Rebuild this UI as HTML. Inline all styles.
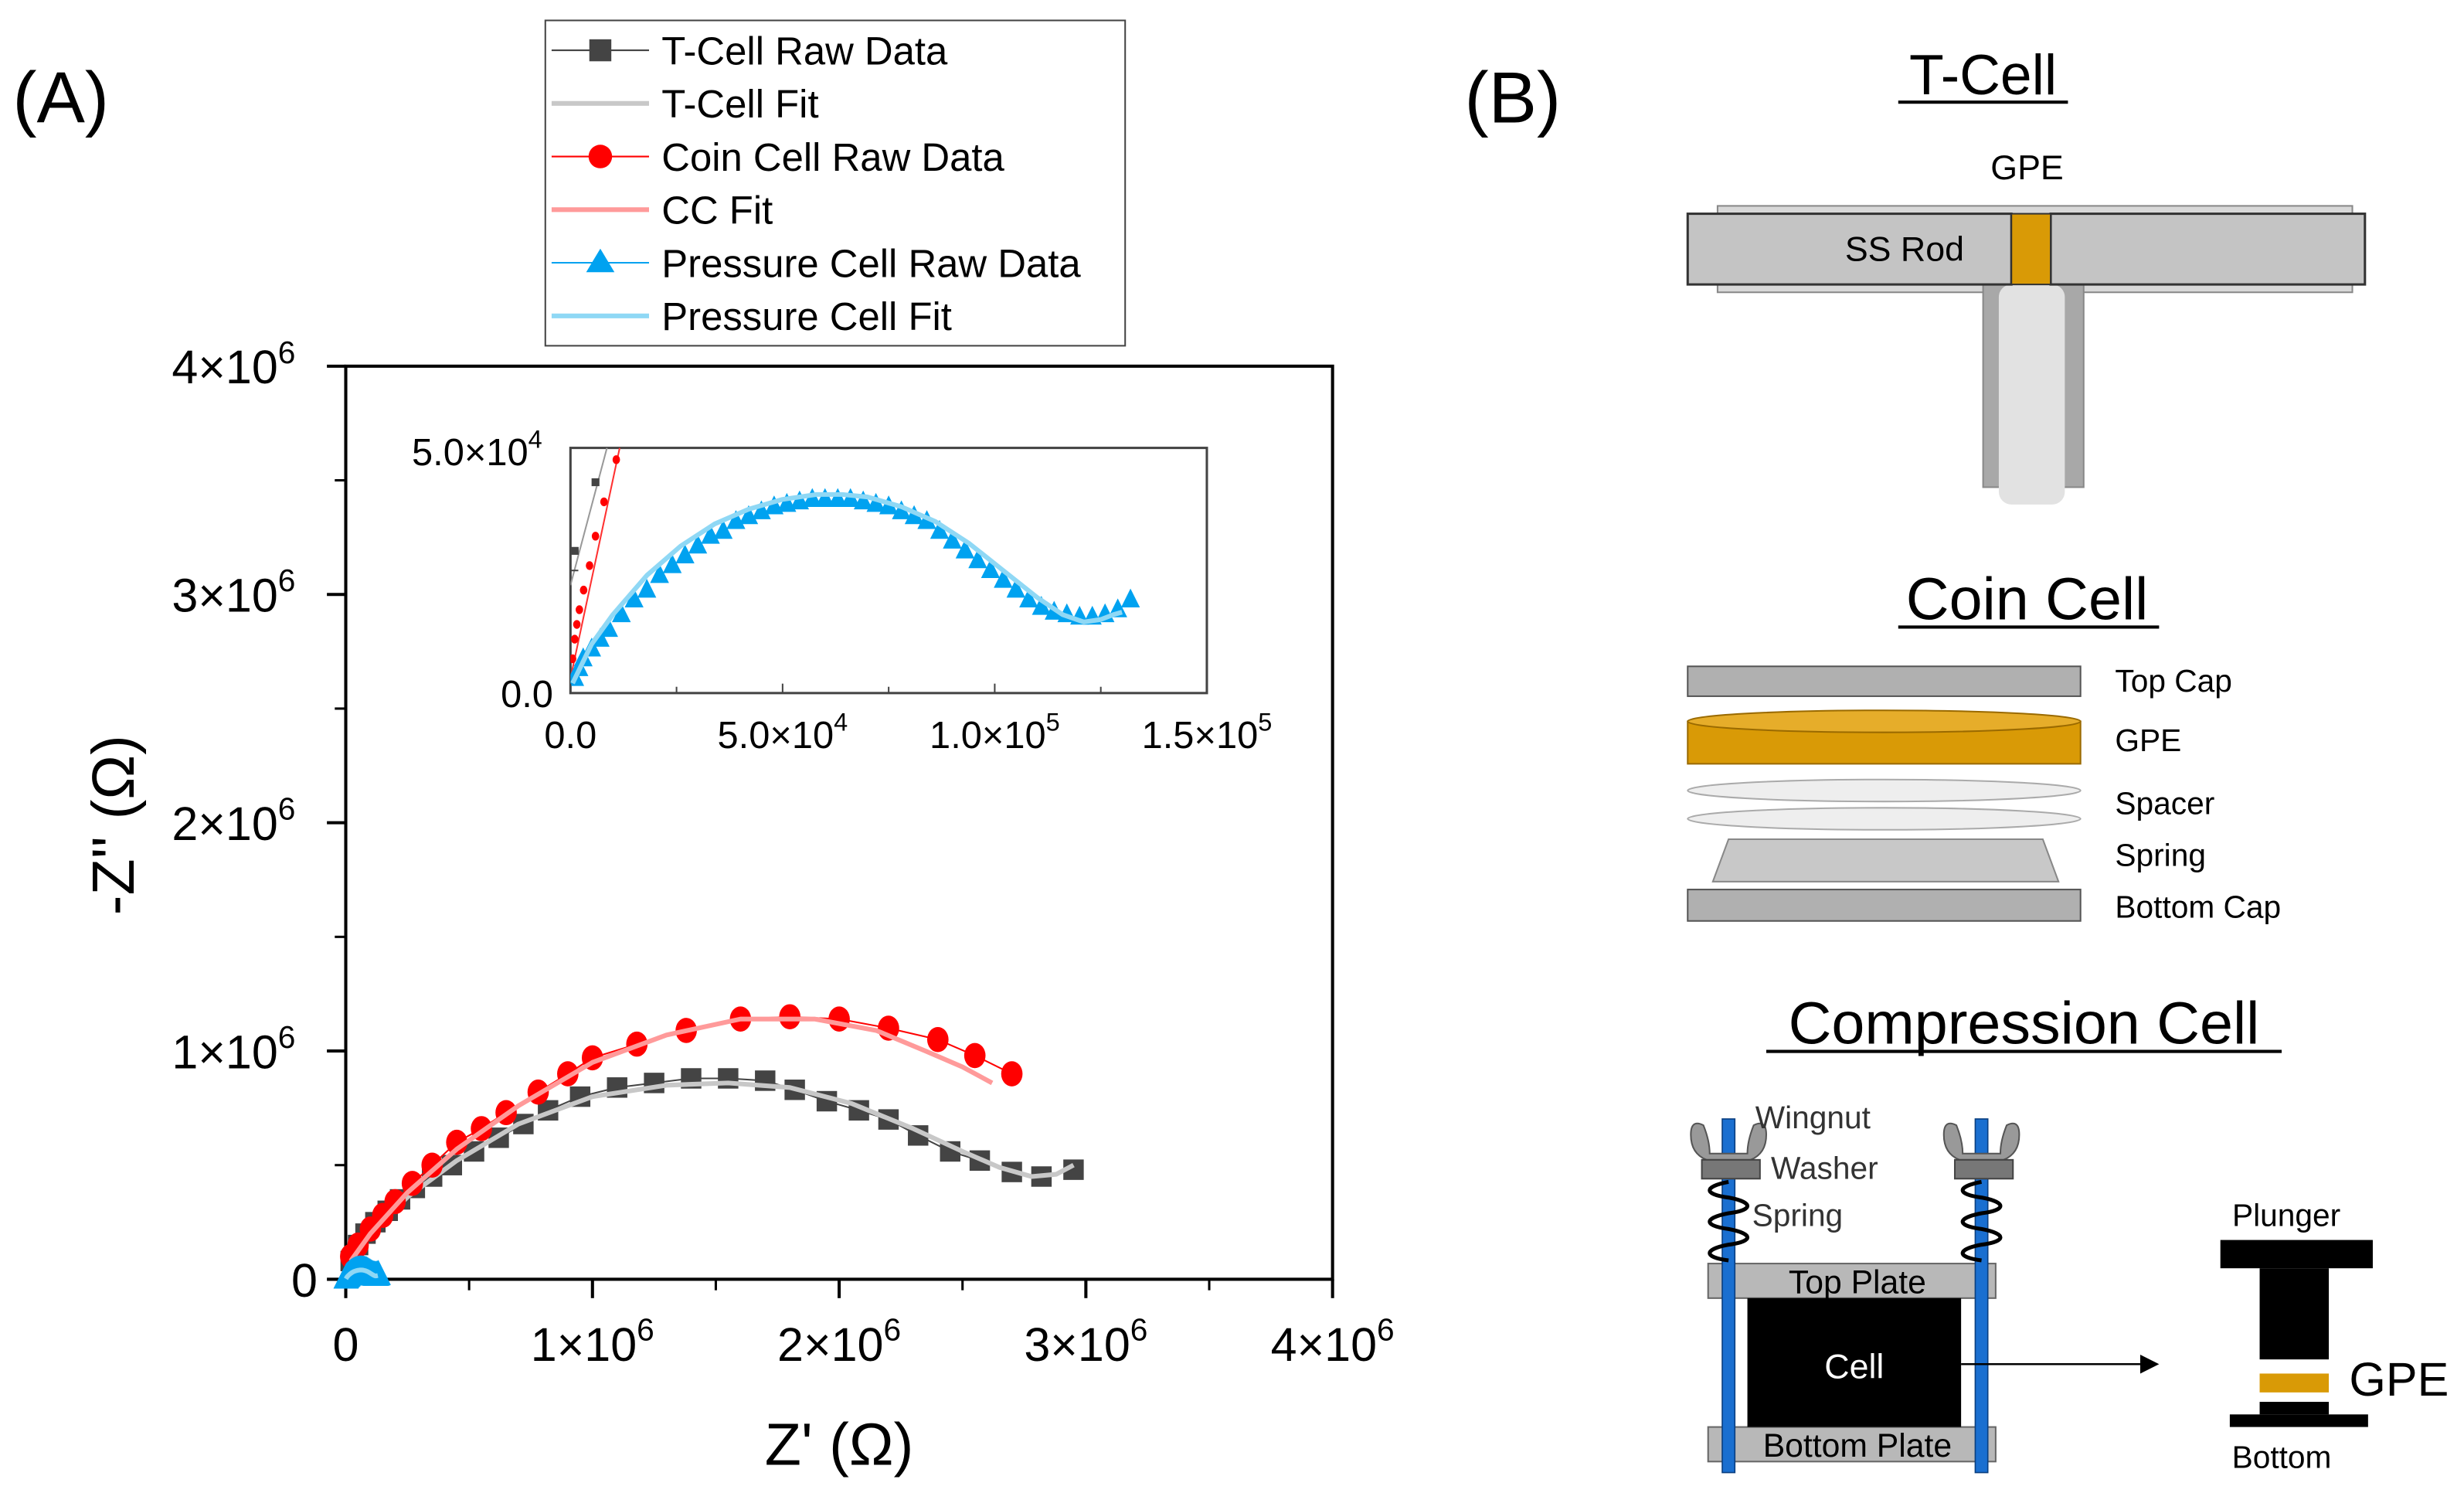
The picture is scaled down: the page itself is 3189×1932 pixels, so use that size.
<!DOCTYPE html>
<html><head><meta charset="utf-8"><style>
html,body{margin:0;padding:0;background:#fff;}
svg{display:block;font-family:"Liberation Sans",sans-serif;}
</style></head><body>
<svg id="fig" width="3189" height="1932" viewBox="0 0 1568 950" xmlns="http://www.w3.org/2000/svg">
<rect width="1568" height="950" fill="#fff"/>
<text x="8" y="78" font-size="46">(A)</text>
<text x="932" y="78" font-size="46">(B)</text>

<g id="main"></g>
<g id="inset"></g>

<g id="legend">
 <rect x="347" y="13" width="369" height="207" fill="#fff" stroke="#444" stroke-width="1"/>
</g>

<text x="85" y="525" font-size="38" text-anchor="middle" transform="rotate(-90 85 525)">-Z'' (Ω)</text>
<text x="534" y="932" font-size="38" text-anchor="middle">Z' (Ω)</text>

<g>
 <text x="1262" y="60" font-size="36" text-anchor="middle">T-Cell</text>
 <line x1="1208" y1="65" x2="1316" y2="65" stroke="#000" stroke-width="2"/>
 <text x="1290" y="114" font-size="22" text-anchor="middle">GPE</text>
 <rect x="1093" y="131" width="404" height="55" fill="#d8d8d8" stroke="#888"/>
 <rect x="1262" y="181" width="64" height="129" fill="#a8a8a8" stroke="#888"/>
 <rect x="1272" y="181" width="42" height="140" rx="8" fill="#e2e2e2"/>
 <rect x="1074" y="136" width="206" height="45" fill="#c4c4c4" stroke="#333" stroke-width="1.5"/>
 <rect x="1305" y="136" width="200" height="45" fill="#c4c4c4" stroke="#333" stroke-width="1.5"/>
 <rect x="1280" y="136" width="25" height="45" fill="#d99a06" stroke="#333"/>
 <text x="1212" y="166" font-size="22" text-anchor="middle">SS Rod</text>
</g>

<g>
 <text x="1290" y="394" font-size="38" text-anchor="middle">Coin Cell</text>
 <line x1="1208" y1="399" x2="1374" y2="399" stroke="#000" stroke-width="2"/>
 <rect x="1074" y="424" width="250" height="19" fill="#b0b0b0" stroke="#555"/>
 <rect x="1074" y="459" width="250" height="27" fill="#d99a06" stroke="#9a6a00"/>
 <ellipse cx="1199" cy="459" rx="125" ry="7" fill="#e6ad2a" stroke="#9a6a00"/>
 <ellipse cx="1199" cy="503" rx="125" ry="7" fill="#eee" stroke="#aaa"/>
 <ellipse cx="1199" cy="521" rx="125" ry="7" fill="#eee" stroke="#aaa"/>
 <polygon points="1100,534 1300,534 1310,561 1090,561" fill="#c8c8c8" stroke="#888"/>
 <rect x="1074" y="566" width="250" height="20" fill="#b0b0b0" stroke="#555"/>
 <g font-size="20">
  <text x="1346" y="440">Top Cap</text>
  <text x="1346" y="478">GPE</text>
  <text x="1346" y="518">Spacer</text>
  <text x="1346" y="551">Spring</text>
  <text x="1346" y="584">Bottom Cap</text>
 </g>
</g>

<g>
 <text x="1288" y="664" font-size="38" text-anchor="middle">Compression Cell</text>
 <line x1="1124" y1="669" x2="1452" y2="669" stroke="#000" stroke-width="2"/>
 <rect x="1087" y="804" width="183" height="22" fill="#b8b8b8" stroke="#666"/>
 <rect x="1087" y="908" width="183" height="22" fill="#b8b8b8" stroke="#666"/>
 <rect x="1112" y="826" width="136" height="82" fill="#000"/>
 <rect x="1096" y="712" width="8" height="225" fill="#1a6fd0" stroke="#0a3f80" stroke-width="0.8"/>
 <rect x="1257" y="712" width="8" height="225" fill="#1a6fd0" stroke="#0a3f80" stroke-width="0.8"/>
 <path d="M1076,722 q0,-10 8,-6 q4,10 4,18 h24 q0,-8 4,-18 q8,-4 8,6 q0,12 -10,16 h-28 q-10,-4 -10,-16z" fill="#999" stroke="#555"/>
 <path d="M1237,722 q0,-10 8,-6 q4,10 4,18 h24 q0,-8 4,-18 q8,-4 8,6 q0,12 -10,16 h-28 q-10,-4 -10,-16z" fill="#999" stroke="#555"/>
 <rect x="1083" y="738" width="37" height="12" fill="#777" stroke="#444"/>
 <rect x="1244" y="738" width="37" height="12" fill="#777" stroke="#444"/>
 <path d="M1100,752 c-16,3 -16,8 0,10 c16,3 16,8 0,10 c-16,3 -16,8 0,10 c16,3 16,8 0,10 c-16,3 -16,8 0,10" fill="none" stroke="#000" stroke-width="2.5"/>
 <path d="M1261,752 c-16,3 -16,8 0,10 c16,3 16,8 0,10 c-16,3 -16,8 0,10 c16,3 16,8 0,10 c-16,3 -16,8 0,10" fill="none" stroke="#000" stroke-width="2.5"/>
 <g font-size="20" fill="#333">
  <text x="1117" y="718">Wingnut</text>
  <text x="1127" y="750">Washer</text>
  <text x="1115" y="780">Spring</text>
 </g>
 <text x="1182" y="823" font-size="21" text-anchor="middle">Top Plate</text>
 <text x="1180" y="877" font-size="22" text-anchor="middle" fill="#fff">Cell</text>
 <text x="1182" y="927" font-size="21" text-anchor="middle">Bottom Plate</text>
 <line x1="1248" y1="868" x2="1362" y2="868" stroke="#000" stroke-width="1.2"/>
 <polygon points="1362,862 1374,868 1362,874" fill="#000"/>
 <text x="1455" y="780" font-size="20" text-anchor="middle">Plunger</text>
 <rect x="1413" y="789" width="97" height="18" fill="#000"/>
 <rect x="1438" y="807" width="44" height="58" fill="#000"/>
 <rect x="1438" y="874" width="44" height="12" fill="#d99a06"/>
 <rect x="1438" y="892" width="44" height="8" fill="#000"/>
 <rect x="1419" y="900" width="88" height="8" fill="#000"/>
 <text x="1495" y="888" font-size="30">GPE</text>
 <text x="1452" y="934" font-size="20" text-anchor="middle">Bottom</text>
</g>

<script>
// ---- Main data (units of 1e6 ohm) ----
const tRawX = [0.02,0.05,0.08,0.12,0.17,0.22,0.28,0.35,0.43,0.52,0.62,0.72,0.82,0.95,1.1,1.25,1.4,1.55,1.7,1.82,1.95,2.08,2.2,2.32,2.45,2.57,2.7,2.82,2.95];
const tRawY = [0.08,0.15,0.2,0.25,0.3,0.35,0.4,0.45,0.5,0.56,0.62,0.68,0.74,0.8,0.84,0.86,0.88,0.88,0.87,0.83,0.78,0.74,0.7,0.63,0.56,0.52,0.47,0.45,0.48];
const tFitX = [0.02,0.1,0.25,0.45,0.7,1.0,1.3,1.55,1.8,2.05,2.3,2.5,2.65,2.78,2.88,2.95];
const tFitY = [0.06,0.2,0.36,0.52,0.68,0.8,0.85,0.86,0.84,0.77,0.66,0.56,0.49,0.45,0.46,0.5];
const ccRawX = [0.02,0.05,0.1,0.15,0.2,0.27,0.35,0.45,0.55,0.65,0.78,0.9,1.0,1.18,1.38,1.6,1.8,2.0,2.2,2.4,2.55,2.7];
const ccRawY = [0.1,0.15,0.22,0.28,0.34,0.42,0.5,0.6,0.66,0.73,0.82,0.9,0.97,1.03,1.09,1.14,1.15,1.14,1.1,1.05,0.98,0.9];
const ccFitX = [0.02,0.1,0.25,0.45,0.7,1.0,1.3,1.6,1.9,2.15,2.35,2.5,2.62];
const ccFitY = [0.08,0.2,0.38,0.57,0.76,0.95,1.07,1.14,1.14,1.09,1.0,0.93,0.86];
// ---- Inset low-impedance data (units of 1e3 ohm) ----
const tInX = [1,5.9,9];
const tInY = [29,43,55];
const tInFitX = [0,8.6];
const tInFitY = [22,50];
const ccInX = [0.5,1,1.5,2.1,3.1,4.5,5.9,7.9,10.8,12.5];
const ccInY = [7,11,14,17,21,26,32,39,47.6,54];
const ccInFitX = [0,11.6];
const ccInFitY = [3,50];
// ---- Pressure cell (units of 1e3 ohm) ----
const pRawX = [1,2,3,5,7,9,12,15,18,21,24,27,30,33,36,39,42,45,48,51,54,57,60,63,66,69,72,75,78,81,84,87,90,93,96,99,102,105,108,111,114,117,120,123,126,129,132];
const pRawY = [3,5,7,9,11,13,16,19,21,24,26,28,30,32,33,35,36,37,38,38.5,39,39.5,39.5,39.5,39.5,39,38.5,38,37,36,35,33,31,29,27,25,23,21,19,17.5,16.5,16,15.5,15.5,16,17,19];
const pFitX = [0.5,5,10,18,26,34,42,50,58,64,70,78,86,94,102,110,116,121,125,128,130];
const pFitY = [2,10,16,24,30,34.5,37.5,39.5,40.5,40.5,40,38,35,30.5,25,19.5,16,14.5,15,16,16.5];
const xTicks = [0,1,2,3,4];
const yTicks = [0,1,2,3,4];
const insetXTickLabels = ["0.0","5.0×10","1.0×10","1.5×10"];
const insetXTickExp = ["","4","5","5"];
const insetXTicks = [0,50,100,150];

const NS="http://www.w3.org/2000/svg";
function mk(tag, attrs, parent){const e=document.createElementNS(NS,tag);for(const k in attrs)e.setAttribute(k,attrs[k]);parent.appendChild(e);return e;}
const main=document.getElementById('main'), inset=document.getElementById('inset'), legend=document.getElementById('legend');

const mx=v=>220+v*157, my=v=>814-v*145.25;
function poly(xs,ys,fx,fy,stroke,w,parent,name){const pts=xs.map((x,i)=>fx(x)+','+fy(ys[i])).join(' ');
 const p=mk('polyline',{points:pts,fill:'none',stroke:stroke,'stroke-width':w,'stroke-linejoin':'round'},parent);
 
 return p;}
function squares(xs,ys,fx,fy,s,parent){xs.forEach((x,i)=>{const r=mk('rect',{x:fx(x)-s/2,y:fy(ys[i])-s/2,width:s,height:s,fill:'#444'},parent);
 
 });}
function circles(xs,ys,fx,fy,r,parent){xs.forEach((x,i)=>{const c=mk('ellipse',{cx:fx(x),cy:fy(ys[i]),rx:r*0.85,ry:r,fill:'#ff0000'},parent);
 
 });}
function tris(xs,ys,fx,fy,s,parent){xs.forEach((x,i)=>{const X=fx(x),Y=fy(ys[i]);const t=mk('polygon',{points:`${X},${Y-s*0.6} ${X-s/2},${Y+s*0.4} ${X+s/2},${Y+s*0.4}`,fill:'#00a2f0'},parent);
 
 });}

mk('rect',{x:220,y:233,width:628,height:581,fill:'none',stroke:'#000','stroke-width':2},main);
xTicks.forEach(t=>{mk('line',{x1:mx(t),y1:814,x2:mx(t),y2:826,stroke:'#000','stroke-width':2},main);
 if(t<4) mk('line',{x1:mx(t+0.5),y1:814,x2:mx(t+0.5),y2:821,stroke:'#000','stroke-width':1.5},main);
 const tx=mk('text',{x:mx(t),y:866,'font-size':30,'text-anchor':'middle'},main);
 
 
 if(t===0) tx.textContent='0'; else {tx.textContent=t+'×10';const s=mk('tspan',{dy:-13,'font-size':20},tx);s.textContent='6';}});
yTicks.forEach(t=>{mk('line',{x1:208,y1:my(t),x2:220,y2:my(t),stroke:'#000','stroke-width':2},main);
 if(t<4) mk('line',{x1:213,y1:my(t+0.5),x2:220,y2:my(t+0.5),stroke:'#000','stroke-width':1.5},main);
 const tx=mk('text',{x:t===0?202:188,y:my(t)+11,'font-size':30,'text-anchor':'end'},main);
 
 
 if(t===0) tx.textContent='0'; else {tx.textContent=t+'×10';const s=mk('tspan',{dy:-13,'font-size':20},tx);s.textContent='6';}});

poly(tRawX,tRawY,mx,my,'#444',1,main,'tcell-raw-line');
squares(tRawX,tRawY,mx,my,13,main);
poly(tFitX,tFitY,mx,my,'#c8c8c8',3,main,'tcell-fit-line');
poly(ccRawX,ccRawY,mx,my,'#ff0000',1,main,'coincell-raw-line');
circles(ccRawX,ccRawY,mx,my,8,main);
poly(ccFitX,ccFitY,mx,my,'#ff9a9a',3,main,'coincell-fit-line');
const pmx=v=>mx(v/1000), pmy=v=>my(v/1000);
tris(pRawX,pRawY,pmx,pmy,16,main);
poly(pFitX,pFitY,pmx,pmy,'#8fd8f5',3,main,'pressure-fit-line');

// inset: x 0..150e3 -> 363..768 ; y 0..50e3 -> 441..285
const ix=v=>363+v*2.7, iy=v=>441-v*3.12;
mk('rect',{x:363,y:285,width:405,height:156,fill:'#fff',stroke:'#444','stroke-width':1.5},inset);
const defs=mk('defs',{},inset);const cp=mk('clipPath',{id:'ic'},defs);mk('rect',{x:363,y:285,width:405,height:156},cp);
const ig=mk('g',{'clip-path':'url(#ic)'},inset);
insetXTicks.forEach((t,i)=>{mk('line',{x1:ix(t),y1:441,x2:ix(t),y2:435,stroke:'#444'},inset);
 if(t<150) mk('line',{x1:ix(t+25),y1:441,x2:ix(t+25),y2:437,stroke:'#444'},inset);
 const tx=mk('text',{x:ix(t),y:476,'font-size':24,'text-anchor':'middle'},inset);
 
 
 tx.textContent=insetXTickLabels[i]; if(insetXTickExp[i]){const s=mk('tspan',{dy:-11,'font-size':16},tx);s.textContent=insetXTickExp[i];}});
mk('line',{x1:363,y1:iy(25),x2:368,y2:iy(25),stroke:'#444'},inset);
const yl1=mk('text',{x:352,y:450,'font-size':24,'text-anchor':'end'},inset);yl1.textContent='0.0';


const yl2=mk('text',{x:345,y:296,'font-size':24,'text-anchor':'end'},inset);yl2.textContent='5.0×10';


const sp=mk('tspan',{dy:-11,'font-size':16},yl2);sp.textContent='4';
poly(tInFitX,tInFitY,ix,iy,'#999',1,ig,'inset-tcell-line');
squares(tInX,tInY,ix,iy,5,ig);
poly(ccInFitX,ccInFitY,ix,iy,'#ff3030',1,ig,'inset-coincell-line');
circles(ccInX,ccInY,ix,iy,2.8,ig);
tris(pRawX,pRawY,ix,iy,12,ig);
poly(pFitX,pFitY,ix,iy,'#8fd8f5',3,ig,'inset-pressure-fit-line');

const entries=[['T-Cell Raw Data','#444','sq',1],['T-Cell Fit','#c8c8c8',null,3],['Coin Cell Raw Data','#ff0000','ci',1],['CC Fit','#ff9a9a',null,3],['Pressure Cell Raw Data','#00a2f0','tr',1],['Pressure Cell Fit','#8fd8f5',null,3]];
entries.forEach((e,i)=>{const y=32+i*33.8;
 const g=mk('g',{},legend);
 
 
 mk('line',{x1:351,y1:y,x2:413,y2:y,stroke:e[1],'stroke-width':e[3]},g);
 if(e[2]==='sq') mk('rect',{x:375,y:y-7,width:14,height:14,fill:'#444'},g);
 if(e[2]==='ci') mk('circle',{cx:382,cy:y,r:7.5,fill:'#ff0000'},g);
 if(e[2]==='tr') mk('polygon',{points:`382,${y-9} 373,${y+6} 391,${y+6}`,fill:'#00a2f0'},g);
 const t=mk('text',{x:421,y:y+9,'font-size':25},g);t.textContent=e[0];});
</script>
</svg>
</body></html>
